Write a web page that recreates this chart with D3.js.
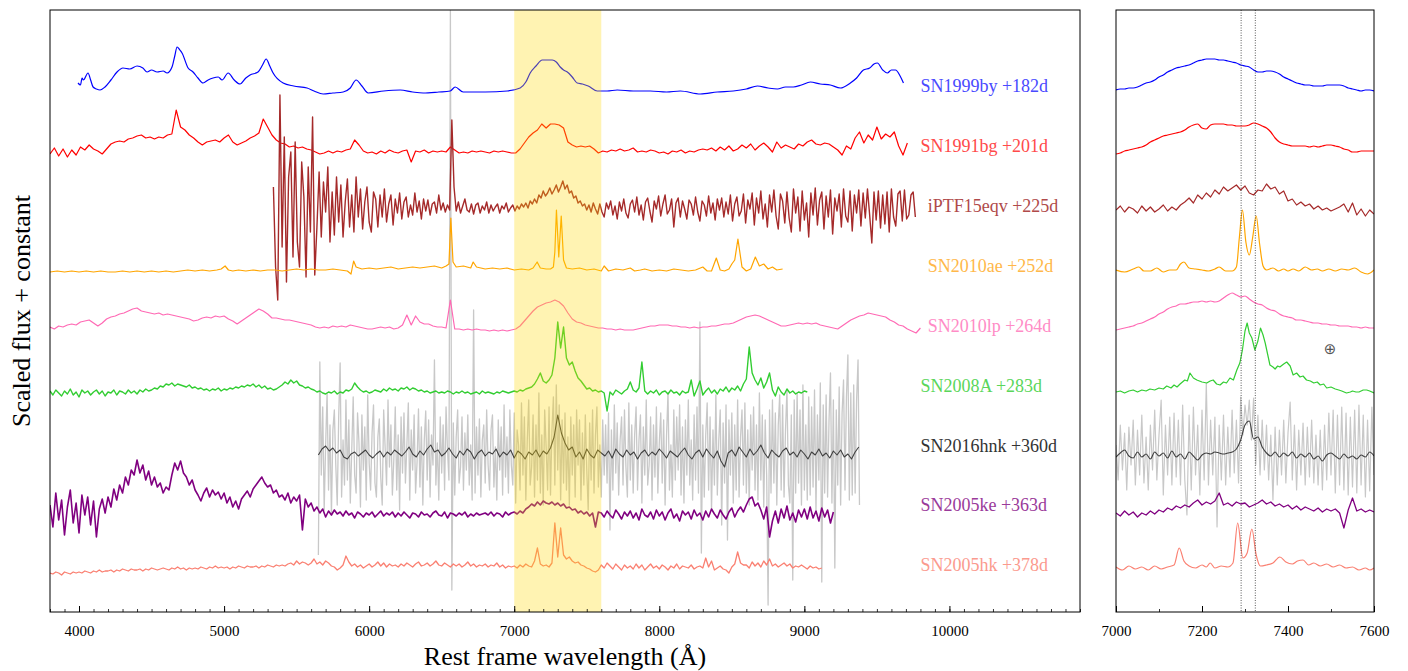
<!DOCTYPE html>
<html><head><meta charset="utf-8">
<script src="https://cdn.jsdelivr.net/npm/d3@7"></script>
<style>
body{margin:0;background:#fff}
text{font-family:"Liberation Serif","DejaVu Serif",serif}
</style>
</head><body>
<svg id="chart" width="1408" height="671"></svg>
<script>
// ---------------- DATA ----------------
const names = ["SN1999by +182d","SN1991bg +201d","iPTF15eqv +225d","SN2010ae +252d","SN2010lp +264d","SN2008A +283d","SN2016hnk +360d","SN2005ke +363d","SN2005hk +378d"];
const colors = ["#0000ff","#ff0000","#a52a2a","#ffa500","#ff69b4","#32cd32","#404040","#800080","#fa8072"];
const labelColors = ["#4a4aff","#ff4a4a","#b04a4a","#ffb84a","#ff8cc6","#5ad65a","#333333","#9a3a9a","#fb9a8e"];
const offsets = [520,460,405,340,284,219,157,97,39];
const labelWave = [9800,9800,9850,9850,9850,9800,9800,9800,9800];
const labelLevel = [526,466,406,346,286,226,166,107,47];
const mainTicks = [4000,5000,6000,7000,8000,9000,10000];
const zoomTicks = [7000,7200,7400,7600];
const caLines = [7291,7324];
const bandRange = [7000,7600];

// SN1999by (irregular sampling)
const w99by = [3993,4010,4021,4030,4062,4080,4097,4120,4145,4179,4220,4262,4303,4350,4400,4440,4469,4500,4538,4580,4607,4641,4660,4676,4695,4710,4752,4786,4820,4855,4890,4924,4960,4986,5028,5070,5110,5150,5179,5234,5265,5290,5315,5338,5407,5480,5572,5620,5683,5750,5821,5870,5910,5950,5993,6100,6214,6300,6372,6480,6559,6593,6648,6800,6952,7041,7080,7110,7150,7193,7230,7262,7290,7317,7340,7366,7400,7434,7470,7510,7572,7640,7710,7820,7938,8050,8145,8283,8400,8510,8600,8676,8750,8814,8870,8924,8980,9041,9110,9179,9248,9317,9360,9407,9450,9480,9503,9540,9572,9600,9628,9660,9683];
const f99by = [9,7,14,12,19,12,5,3,2,5,12,20,24,23,26,24,20,22,20,21,19,25,36,45,42,39,24,20,14,9,12,14,15,12,19,12,8,14,17,20,27,33,26,19,9,6,4,1,-2,-1,0,4,12,6,-1,1,2,0,-1,0,1,5,0,0,1,4,10,19,26,32,32,32,30,25,22,20,15,9,8,6,1,1,2,1,1,0,1,-2,0,1,3,6,4,3,5,5,7,10,8,7,4,9,14,22,24,28,29,22,19,22,22,16,9];

// SN1991bg: 3800 + 30*i
const f91bg = [-2,4,-4,3,-5,2,-3,5,2,7, 3,1,-2,3,8,10,11,10,13,14, 16,17,14,15,13,15,14,17,18,42, 25,22,17,14,10,7,10,11,12,10,
 14,17,10,7,9,11,14,16,19,33, 25,17,12,9,8,5,6,4,5,3, 2,0,-2,-1,1,-1,1,0,2,3, 12,7,1,-1,0,-2,1,-1,2,0,
 -1,1,2,-10,1,0,2,-1,1,0, 1,0,5,2,-1,0,-1,1,0,1, 0,-1,1,0,1,0,-1,-1,3,9, 15,19,22,28,24,28,28,27,24,10,
 7,5,6,5,6,3,-1,1,0,2, 1,3,1,2,4,0,1,0,2,1, -1,0,-2,1,0,2,-1,1,0,2, 3,2,4,1,5,2,6,1,3,7,
 4,8,2,6,9,5,0,10,4,7, 5,3,8,6,10,12,8,7,9,8, 5,2,-3,6,3,14,20,9,17,12, 25,13,18,15,20,6,-3,9];

// iPTF15eqv: 5340 + 15*i
const fPTF = [20,-60,-93,112,-40,70,-75,30,55,-50, 65,-35,-60,45,10,-70,40,-25,90,-68,
 -20,35,-30,25,-5,40,-35,15,-28,30, -15,22,-30,5,28,-20,12,-25,30,-10, 18,-22,5,20,-15,-25,15,8,-20,12,
 -10,18,-15,3,12,-18,8,-6,14,-12, 5,10,-10,2,-8,14,-5,6,-12,8, -4,7,-8,3,5,-6,12,-3,4,-5,
 2,-3,87,20,-4,5,-6,1,8,-3, -5,3,-7,2,4,-6,1,-3,5,-6, 2,-4,0,3,-6,1,-2,4,-5,-1,
 2,-4,1,-2,3,0,4,-1,6,3, 8,4,12,9,16,11,14,19,13,17, 22,15,20,26,18,22,14,16,9,11,
 4,6,1,3,-3,2,-5,4,-2,-7, 3,-5,-10,4,-2,6,-8,1,-12,5, -4,8,-6,-11,3,7,-5,10,-8,2,
 -13,5,9,-4,-15,6,-2,11,-9,3, 12,-7,-3,8,-20,4,9,-10,6,-2, -12,7,3,-8,10,-5,-14,6,2,-9,
 11,-6,4,-13,8,-3,9,-10,5,-7, 12,-14,3,10,-9,-4,13,-16,7,-2, 14,-18,9,-6,16,-12,3,-20,12,-5,
 17,-9,-22,13,6,-16,15,-11,-25,18, -6,10,-24,16,-13,4,-30,14,-8,19, -18,7,15,-22,11,-10,17,-27,9,-4,
 13,-20,18,-9,-15,16,-24,12,-6,17, -19,14,-11,18,-8,-36,15,-13,16,-21, 12,-17,15,-25,18,-10,-19,13,16,-14,
 17,-12,-8,12,15,-10];

// SN2010ae (irregular sampling)
const w10ae = [3800,3850,3900,3950,4000,4050,4100,4150,4200,4250,4300,4350,4400,4450,4500,4550,4600,4650,4700,4750,4800,4850,4900,4950,
 4980,5007,5030,5060, 5100,5150,5200,5250,5300,5350,5400,5450,5500,5550,5600,5650,5700,5750,5800,5850,
 5875,5893,5910, 5950,6000,6050,6100,6150,6200,6250,6300,6350,6400,6450,6500,
 6530,6550,6563,6578, 6600,6650,6700, 6717,6740, 6800,6850,6900,6950,7000,7050,7100,
 7130,7158,7180,7220,7250,7270,7280,7291,7307,7324,7340,7360, 7400,7450,7500,7550,7600,
 7620,7650,7700,7750,7800, 7830,7870,7900,7950,8000,8050,8100,8150,8200,8250,8300,
 8330,8360,8393,8420,8450,8480,8500,8520,8542,8570,8600,8630,8662,8690,8720,8750,8780,8810,8850];
const f10ae = [0,1,0,1,0,1,0,1,0,0,1,0,1,0,1,0,1,0,1,2,1,2,1,2,
 3,6,2,1, 2,1,2,1,2,2,1,2,3,2,3,2,2,3,2,1,
 -2,11,5, 3,4,3,4,5,3,4,5,4,5,6,4,
 6,8,54,10, 5,6,4, 10,5, 3,4,3,4,2,3,2,
 4,10,4,3,3,5,20,62,15,56,12,4, 3,4,2,3,1,
 6,1,3,2,4, 1,2,3,1,2,1,3,2,1,2,5,
 1,1,14,2,1,3,8,12,33,5,1,3,15,6,8,3,5,2,3];

// SN2010lp: 3800 + 30*i
const f10lp = [1,-1,2,1,3,4,3,6,7,8, 5,2,5,9,11,12,14,15,17,19, 20,17,16,15,14,15,13,14,13,12, 11,10,9,7,8,10,11,10,12,11,
 12,9,7,4,7,10,13,16,19,17, 14,10,10,9,8,8,7,6,5,4, 3,1,0,1,0,2,1,2,1,3, 2,1,0,-1,-1,0,1,0,1,-1,
 0,3,13,3,12,6,4,4,2,1, 1,0,28,-1,-1,-2,-1,-2,-1,-2, -2,-3,-2,-3,-2,-3,-2,-1,2,7, 12,17,21,23,25,26,28,26,22,15,
 9,6,5,3,2,1,0,0,-1,-1, -2,-1,-2,-2,-2,-1,0,1,2,2, 3,3,3,2,2,1,1,0,1,0, 1,1,2,2,3,4,4,5,7,9,
 11,12,13,12,10,8,6,4,2,2, 3,4,5,4,5,4,5,3,2,1, 0,-1,2,5,8,10,12,13,15,14, 13,12,11,8,6,3,2,-1,-3,-5, 0];

// SN2008A: 3800 + 20*i
const f08A = [2,-2,3,0,-3,2,-1,4,-2,1,-4,3,0,2,-2,1,3,-1,2,-3,1,0,3,-2,2,1,-1,3,0,2,-1,3,1,4,2,
 3,5,4,7,6,9,8,10,7,9,8,
 7,6,8,5,6,4,5,3,4,2,4,3,5,2,4,
 3,5,4,6,5,7,6,8,7,9,6,8,5,7,4,
 5,3,4,6,8,11,9,13,10,12,8,7,5,6,4,
 3,1,2,0,-1,1,0,2,-1,1,0,3,2,4,10,
 6,3,1,2,0,1,3,2,1,4,2,5,3,4,2,
 5,4,6,3,5,4,2,3,1,2,0,1,2,0,1,
 0,2,1,-1,1,0,2,0,1,-1,0,1,-1,2,0,
 1,0,-1,1,0,2,1,0,1,2,1,3,2,4,5,
 6,9,14,20,12,10,13,18,35,71,
 45,66,35,28,31,22,15,12,8,4,5,2,3,1,2,
 0,-18,1,-2,3,1,-1,2,4,11,3,1,5,31,2,
 -1,2,0,3,-2,1,2,-1,3,0,1,-2,2,0,1,
 13,-3,4,12,-2,2,5,0,3,-1,4,2,6,1,5,
 3,7,2,9,14,46,20,13,8,15,5,11,20,3,-3,
 6,1,-2,4,0,2,-1,1,0,2,1];

// SN2016hnk raw (grey): 5650 + 10*i
const fHnkRaw = [-100,93,-20,48,-55,10,62,-35,30,-60, 25,45,-10,-50,38,92,-42,15,-30,55, -25,35,-48,5,58,-20,-38,42,12,-52,
 40,-15,28,-45,60,-8,-35,22,50,-28, -42,18,36,-22,-50,45,8,-30,55,-12, 30,-40,-5,48,-35,20,-55,38,-18,42,
 -28,10,52,-45,25,-15,40,-38,-8,46, -32,28,-50,15,44,-25,35,-42,20,-10, 95,-30,12,-45,38,-18,30,-35,48,5,
 -25,445,-135,32,-40,18,45,-28,-12,38, -35,22,-15,40,-30,10,-45,145,-38,28, -20,36,-42,15,30,-28,45,-10,-35,25,
 40,-32,8,-45,35,-15,28,-40,50,-22, 18,-38,45,-10,-30,42,-48,25,10,-35, 52,-20,38,-45,15,55,-30,-12,40,-42,
 30,-25,62,-38,20,-50,45,8,-35,48, -40,25,58,-30,70,-15,50,-45,35,-28, 42,-35,18,-50,38,-20,30,-42,45,-10,
 35,-45,22,-30,40,-15,-55,32,-25,45, -38,20,48,-32,10,-42,35,-20,30,-28, 42,-75,25,-35,50,-18,32,-40,15,38,
 -30,45,-12,-42,52,-25,30,-38,20,48, -35,15,40,-48,28,-20,55,-30,-10,38, -45,30,-22,48,-38,12,42,-28,35,-50,
 20,62,-35,10,-42,45,-25,38,-15,50, -40,28,-48,35,-20,55,-30,15,-45,40, -25,48,-38,133,-98,30,-42,20,52,-35,
 38,-55,25,-30,60,-40,15,45,-70,32, -28,50,-85,35,-20,42,-48,30,-35,55, -42,18,45,-30,52,-38,25,-50,40,-15,
 48,-35,30,-45,62,-25,40,-52,35,-20, -150,45,-38,55,-28,42,-50,30,60,-35, 50,-42,25,65,-30,-48,40,-125,55,-38,
 62,-28,45,-50,70,-35,30,-45,58,-40, 48,-32,65,-55,40,-25,72,-127,50,-38, 60,-42,35,82,-48,55,-113,45,-30,68,
 -50,42,75,-35,58,100,-45,62,-40,70, -38,55,95,-50];
// SN2016hnk smoothed: 5650 + 25*i
const fHnk = [0,6,9,4,7,2,5,-2,-4,1, 3,-1,2,5,0,-3,1,4,-2,3, 0,5,2,-1,3,8,1,-2,4,0, 6,10,3,5,-1,2,7,1,-3,4,
 0,6,3,-4,2,5,-1,3,1,6, -2,3,0,5,-3,4,1,-4,3,0, 5,-2,4,1,7,18,40,22,12,5, 8,-2,3,-4,6,0,-3,5,2,-1,
 4,-3,6,1,-2,5,0,3,-4,2, 5,-1,3,0,6,2,-3,4,1,-2, 3,7,0,-4,2,5,-2,6,1,-3, 4,-6,-12,2,5,-1,8,3,-2,6,
 0,4,10,2,-3,5,1,-2,4,7, 0,3,-2,5,1,-4,3,0,6,-1, 2,-3,4,0,5,-2,1,-4,3,8];

// SN2005ke: 3800 + 20*i
const f05ke = [10,-12,22,-5,15,-20,8,25,-8,12,-18,20,0,18,-10,14,-22,6,16,2,
 18,8,26,15,30,22,38,30,45,40, 55,42,50,35,44,30,38,28,32,22, 28,25,40,52,45,54,42,38,30,35, 25,20,14,22,27,18,25,20,23,16,
 22,12,18,8,14,6,16,20,24,18, 26,30,34,38,32,28,30,22,25,18, 20,15,22,12,18,14,20,-15,16,8, 12,4,8,2,6,-2,4,0,5,1,
 3,-1,4,0,2,-3,3,1,-2,2, 0,3,-2,1,4,-1,2,0,3,-2, 2,-1,3,0,-3,2,1,-2,3,0, 1,-2,2,4,0,-1,3,-3,2,1,
 -1,2,0,3,-2,1,-1,2,0,1, 2,0,3,-1,2,1,-2,3,0,2, 3,1,4,2,6,8,11,9,13,10, 14,12,11,13,10,12,9,11,7,8,
 5,6,2,4,1,3,-1,2,-12,3, 2,-2,4,0,-3,5,1,-4,3,-1, 4,-3,2,-5,6,0,-2,3,-4,5, -1,3,-5,2,6,-3,1,-6,4,0,
 3,-4,5,-1,2,-5,4,-2,6,1, -3,5,0,-4,3,7,-2,4,8,3, 10,16,18,9,12,5,-4,8,-22,-6, 4,-8,6,-3,9,-5,2,-7,5,-2,
 6,-4,8,-3,4,-6,7,-2,5,-8, 3];

// SN2005hk: 3800 + 20*i
const f05hk = [0,-1,1,0,-2,1,0,-1,1,0, 1,0,2,1,0,2,1,3,1,2, 2,3,1,3,2,4,3,2,4,3, 3,4,2,4,3,5,4,3,4,5,
 4,3,5,4,6,4,5,3,5,4, 5,4,6,5,4,6,5,7,5,6, 5,6,4,6,5,7,6,5,7,6, 6,7,5,7,6,8,7,6,8,7,
 8,7,9,10,8,12,9,11,10,8, 10,14,9,11,8,12,10,7,6,3, 5,8,17,11,7,9,6,8,5,7, 9,6,8,11,7,10,6,9,7,8,
 6,9,7,10,8,6,9,11,7,8, 10,7,9,12,8,7,10,8,6,9, 7,9,6,8,11,7,9,6,8,7, 9,6,8,7,10,6,8,5,7,6,
 7,5,8,6,9,7,6,12,25,9, 7,8,6,10,50,16,45,18,14,16, 12,10,11,8,7,5,4,2,1,3, 8,5,10,7,4,9,6,3,8,5,
 7,4,9,5,8,3,6,9,5,7, 4,8,6,3,7,5,9,4,7,6, 5,8,4,6,7,5,15,6,12,3, 5,7,4,3,0,6,9,21,10,8,
 8,5,11,7,10,6,12,8,14,7, 9,6,8,10,7,9,5,7,6,8, 6,4,7,5,6,4,5];

// ---- zoom panel (7000-7600 A), 7000 + 10*i unless stated ----
const z99by = [2,3,3,4,4,5,7,9,10,12, 15,17,20,22,24,25,26,27,29,31, 32,33,33,33,32,32,31,30,29,27, 26,25,22,20,20,21,21,20,18,15, 13,11,9,8,7,7,6,6,6,7, 7,7,7,6,4,3,2,1,2,2, 1];
const z91bg = [-2,-1,1,2,3,4,5,7,10,12, 14,16,17,18,19,20,22,25,27,28, 24,23,27,28,28,28,27,27,26,26, 26,27,29,28,26,24,20,14,10,8, 7,6,6,6,6,5,6,5,6,7, 7,6,5,3,2,0,0,1,1,1, 1];
const zPTF = [-3,1,-5,0,-2,-6,1,-4,0,-5, -2,2,-4,0,-3,2,5,9,4,12, 8,14,10,17,13,20,16,19,22,17, 21,14,12,17,16,23,18,20,13,16, 6,8,2,5,1,3,-2,1,-3,-1, -4,-2,0,3,-5,4,-8,-2,-9,-3, -7];
const zw10ae = [7000,7020,7040,7053,7065,7080,7095,7110,7125,7140,7150,7158,7170,7185,7200,7215,7230,7240,7255,7270,7280,7287,7294,7302,7310,7318,7326,7334,7342,7350,7365,7378,7390,7400,7412,7425,7440,7455,7468,7480,7495,7510,7525,7540,7555,7570,7585,7600];
const z10ae = [2,0,3,5,1,1,4,0,2,2,8,10,4,3,2,1,3,5,1,1,5,35,62,30,17,35,56,28,6,2,4,1,3,1,3,1,5,2,3,1,3,1,3,2,4,0,-2,2];
const z10lp = [-2,-1,0,1,2,4,5,7,9,11, 14,16,19,21,22,24,24,25,26,26, 27,26,27,26,27,30,33,35,33,31, 32,29,26,24,23,20,18,17,14,12, 11,10,8,8,7,6,5,5,4,4, 3,3,2,2,2,1,1,0,1,0, 0];
const zw08A = [7000,7010,7020,7030,7040,7050,7060,7070,7079,7090,7100,7110,7118,7128,7135,7142,7149,7160,7166,7172,7180,7188,7200,7211,7219,7226,7234,7242,7250,7257,7265,7273,7281,7288,7294,7300,7305,7310,7316,7323,7330,7336,7342,7347,7353,7358,7365,7370,7376,7381,7390,7397,7405,7412,7420,7428,7435,7443,7452,7460,7468,7475,7483,7490,7500,7510,7518,7525,7536,7545,7550,7558,7565,7575,7583,7590,7600];
const z08A = [1,2,0,2,3,1,3,2,4,3,5,4,7,5,8,6,9,13,12,20,15,13,11,10,12,13,9,8,11,10,15,13,23,30,43,62,70,60,55,43,52,65,58,50,38,28,26,24,27,26,29,31,27,18,20,16,17,13,12,10,11,8,9,5,6,4,3,2,0,1,2,1,1,3,3,2,0];
// 2016hnk raw in zoom: 7000 + 5*i
const zHnkRaw = [10,-25,30,-15,22,-35,28,-10,35,-30, 25,-20,40,-28,18,-35,30,-15,45,-25, 20,55,-40,30,-20,38,-30,42,-22,35,
 -30,50,-25,-60,40,-35,48,-20,30,-40, 45,-25,72,-30,35,-20,38,-72,30,-25, 40,-30,28,-22,45,-18,35,-28,58,20,
 50,30,55,15,57,-10,40,-20,35,-15, 30,-25,20,-45,28,-30,25,-20,35,-28, 22,53,-25,30,-35,25,-20,32,-30,28,
 -22,35,-28,20,-30,25,-35,30,-25,42, -20,45,-38,40,-30,48,-35,42,-40,38, -32,45,-38,50,-30,40,-42,35,-36,48, -20];
const zHnk = [-2,2,5,-1,-3,3,-2,1,-4,3, -1,2,-3,4,-2,1,-4,3,-1,-5, 0,2,1,3,2,1,2,3,6,15, 30,34,16,18,8,2,-1,3,-2,2, -1,3,-3,1,-2,2,-4,-1,-6,0, 2,-1,-4,1,-3,-1,-4,0,-2,3, -1];
const z05ke = [2,-1,4,0,3,-2,2,0,4,1, 5,3,7,5,9,7,10,8,12,15, 10,13,11,14,22,10,12,9,13,11, 12,8,10,12,15,11,13,9,11,8, 10,6,9,5,8,6,4,7,3,6, 4,6,2,-13,5,17,4,6,3,5, 3];
const zw05hk = [7000,7015,7030,7045,7060,7075,7090,7105,7120,7135,7147,7158,7170,7185,7200,7210,7219,7230,7245,7260,7272,7283,7295,7305,7316,7326,7336,7350,7365,7381,7395,7410,7422,7435,7448,7460,7475,7490,7505,7520,7535,7550,7565,7580,7590,7600];
const z05hk = [6,3,7,4,6,3,7,4,6,8,25,12,7,5,8,6,10,5,7,6,10,50,15,20,44,18,7,8,10,16,11,9,12,13,8,10,7,9,6,8,5,6,3,5,3,5];

const earthSymbol = {wave: 7498, level: 263};

// ---------------- DRAWING ----------------
const grid = (start, step, vals) => vals.map((v, i) => [start + i * step, v]);
const pairs = (ws, vals) => ws.slice(0, Math.min(ws.length, vals.length)).map((w, i) => [w, vals[i]]);

const svg = d3.select("#chart");
const yTop = 10, yBot = 612;
const xMain = d3.scaleLinear().domain([3800, 10900]).range([50, 1080]);
const xZoom = d3.scaleLinear().domain([7000, 7600]).range([1116, 1374]);
const y = d3.scaleLinear().domain([0, 602]).range([yBot, yTop]);

const defs = svg.append("defs");
defs.append("clipPath").attr("id", "clipMain").append("rect")
  .attr("x", xMain.range()[0]).attr("y", yTop).attr("width", xMain.range()[1] - xMain.range()[0]).attr("height", yBot - yTop);
defs.append("clipPath").attr("id", "clipZoom").append("rect")
  .attr("x", xZoom.range()[0]).attr("y", yTop).attr("width", xZoom.range()[1] - xZoom.range()[0]).attr("height", yBot - yTop);

const mainSpectra = [
  {pts: grid(5650, 10, fHnkRaw), off: offsets[6], color: "#c8c8c8", w: 1.3},
  {pts: pairs(w99by, f99by), off: offsets[0], color: colors[0], w: 1.2, curve: d3.curveMonotoneX},
  {pts: grid(3800, 30, f91bg), off: offsets[1], color: colors[1], w: 1.2},
  {pts: grid(5340, 15, fPTF), off: offsets[2], color: colors[2], w: 1.4},
  {pts: pairs(w10ae, f10ae), off: offsets[3], color: colors[3], w: 1.2},
  {pts: grid(3800, 30, f10lp), off: offsets[4], color: colors[4], w: 1.2},
  {pts: grid(3800, 20, f08A), off: offsets[5], color: colors[5], w: 1.4},
  {pts: grid(5650, 25, fHnk), off: offsets[6], color: colors[6], w: 1.1},
  {pts: grid(3800, 20, f05ke), off: offsets[7], color: colors[7], w: 1.6},
  {pts: grid(3800, 20, f05hk), off: offsets[8], color: colors[8], w: 1.3}
];
const zoomSpectra = [
  {pts: grid(7000, 5, zHnkRaw), off: offsets[6], color: "#c8c8c8", w: 1.2},
  {pts: grid(7000, 10, z99by), off: offsets[0], color: colors[0], w: 1.2, curve: d3.curveMonotoneX},
  {pts: grid(7000, 10, z91bg), off: offsets[1], color: colors[1], w: 1.2, curve: d3.curveMonotoneX},
  {pts: grid(7000, 10, zPTF), off: offsets[2], color: colors[2], w: 1.2},
  {pts: pairs(zw10ae, z10ae), off: offsets[3], color: colors[3], w: 1.2, curve: d3.curveMonotoneX},
  {pts: grid(7000, 10, z10lp), off: offsets[4], color: colors[4], w: 1.2, curve: d3.curveMonotoneX},
  {pts: pairs(zw08A, z08A), off: offsets[5], color: colors[5], w: 1.2},
  {pts: grid(7000, 10, zHnk), off: offsets[6], color: colors[6], w: 1.1, curve: d3.curveMonotoneX},
  {pts: grid(7000, 10, z05ke), off: offsets[7], color: colors[7], w: 1.3},
  {pts: pairs(zw05hk, z05hk), off: offsets[8], color: colors[8], w: 1.2, curve: d3.curveMonotoneX}
];

function drawSpectra(g, xs, list) {
  list.forEach(s => {
    const line = d3.line().x(d => xs(d[0])).y(d => y(d[1] + s.off)).curve(s.curve || d3.curveLinear);
    g.append("path").datum(s.pts).attr("d", line)
      .attr("fill", "none").attr("stroke", s.color).attr("stroke-width", s.w)
      .attr("stroke-linejoin", "round");
  });
}

// main panel
const gMain = svg.append("g").attr("clip-path", "url(#clipMain)");
drawSpectra(gMain, xMain, mainSpectra);
gMain.append("rect")
  .attr("x", xMain(bandRange[0])).attr("y", yTop)
  .attr("width", xMain(bandRange[1]) - xMain(bandRange[0])).attr("height", yBot - yTop)
  .attr("fill", "#ffd700").attr("opacity", 0.3);

// zoom panel
const gZoom = svg.append("g").attr("clip-path", "url(#clipZoom)");
drawSpectra(gZoom, xZoom, zoomSpectra);
gZoom.selectAll("line.ca").data(caLines).enter().append("line")
  .attr("x1", d => xZoom(d)).attr("x2", d => xZoom(d))
  .attr("y1", yTop).attr("y2", yBot)
  .attr("stroke", "#333").attr("stroke-width", 0.8).attr("stroke-dasharray", "1,1.5");
svg.append("text").attr("x", xZoom(earthSymbol.wave)).attr("y", y(earthSymbol.level))
  .attr("text-anchor", "middle").attr("dominant-baseline", "central")
  .style("font-family", "'DejaVu Sans'").style("font-size", "15px").attr("fill", "#555")
  .text("\u2295");

// frames
[xMain, xZoom].forEach(xs => {
  svg.append("rect").attr("x", xs.range()[0]).attr("y", yTop)
    .attr("width", xs.range()[1] - xs.range()[0]).attr("height", yBot - yTop)
    .attr("fill", "none").attr("stroke", "#000").attr("stroke-width", 1);
});

// axes
function drawAxis(xs, majors, minorStep) {
  const [d0, d1] = xs.domain();
  const minors = d3.range(Math.ceil(d0 / minorStep) * minorStep, d1 + 1, minorStep);
  const gMin = svg.append("g").attr("transform", `translate(0,${yBot})`)
    .call(d3.axisBottom(xs).tickValues(minors).tickSize(-3).tickSizeOuter(0).tickFormat(""));
  gMin.select(".domain").remove();
  gMin.selectAll("line").attr("stroke", "#000").attr("stroke-width", 0.8);
  const gMaj = svg.append("g").attr("transform", `translate(0,${yBot})`)
    .call(d3.axisBottom(xs).tickValues(majors).tickSize(-6).tickSizeOuter(0).tickPadding(13).tickFormat(d3.format("d")));
  gMaj.select(".domain").remove();
  gMaj.selectAll("line").attr("stroke", "#000").attr("stroke-width", 1);
  gMaj.selectAll("text").style("font-family", "'Liberation Serif'").style("font-size", "15px").attr("fill", "#000");
}
drawAxis(xMain, mainTicks, 100);
drawAxis(xZoom, zoomTicks, 100);

// labels
svg.selectAll("text.lab").data(names).enter().append("text")
  .attr("class", "lab")
  .attr("x", (d, i) => xMain(labelWave[i]))
  .attr("y", (d, i) => y(labelLevel[i]))
  .attr("dominant-baseline", "central")
  .style("font-size", "18px")
  .attr("fill", (d, i) => labelColors[i])
  .text(d => d);

svg.append("text").attr("x", (xMain.range()[0] + xMain.range()[1]) / 2).attr("y", 665)
  .attr("text-anchor", "middle").style("font-size", "26px").attr("fill", "#000")
  .text("Rest frame wavelength (\u00c5)");
svg.append("text").attr("transform", `translate(30,${(yTop + yBot) / 2}) rotate(-90)`)
  .attr("text-anchor", "middle").style("font-size", "26px").attr("fill", "#000")
  .text("Scaled flux + constant");
</script>
</body></html>
